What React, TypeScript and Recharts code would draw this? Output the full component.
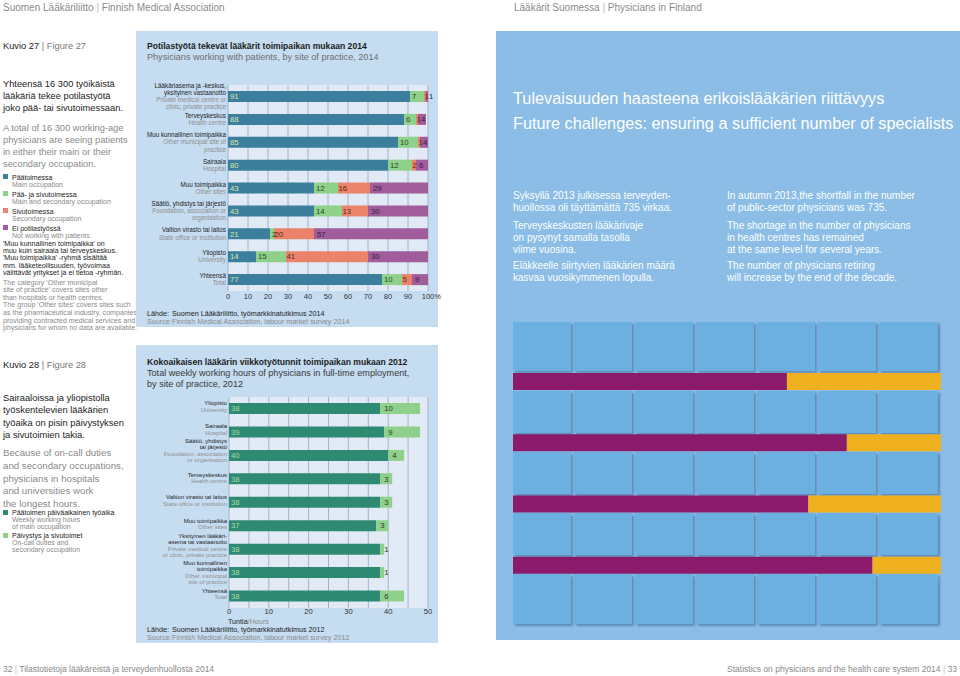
import React from "react";
import { BarChart, Bar, XAxis, YAxis, CartesianGrid, LabelList } from "recharts";

const FONT = '"Liberation Sans", Arial, Helvetica, sans-serif';
const DARK = "#1c1c1c";
const GRAY = "#8a8a8a";

// ---------- Figure 27 data ----------
const fig27Fi: string[][] = [
  ["Lääkäriasema ja -keskus,", "yksityinen vastaanotto"],
  ["Terveyskeskus"],
  ["Muu kunnallinen toimipaikka"],
  ["Sairaala"],
  ["Muu toimipaikka"],
  ["Säätiö, yhdistys tai järjestö"],
  ["Valtion virasto tai laitos"],
  ["Yliopisto"],
  ["Yhteensä"],
];
const fig27En: string[][] = [
  ["Private medical centre or", "clinic, private practice"],
  ["Health centre"],
  ["Other municipal site of", "practice"],
  ["Hospital"],
  ["Other sites"],
  ["Foundation, association or", "organisation"],
  ["State office or institution"],
  ["University"],
  ["Total"],
];
const fig27Main = [91, 88, 85, 80, 43, 43, 21, 14, 77];
const fig27Both = [7, 6, 10, 12, 12, 14, 2, 15, 10];
const fig27Secondary = [1, 1, 1, 2, 16, 13, 20, 41, 5];
const fig27NotWorking = [1, 4, 4, 6, 29, 30, 57, 30, 9];
const fig27Ticks = [0, 10, 20, 30, 40, 50, 60, 70, 80, 90, 100];

// ---------- Figure 28 data ----------
const fig28Fi: string[][] = [
  ["Yliopisto"],
  ["Sairaala"],
  ["Säätiö, yhdistys", "tai järjestö"],
  ["Terveyskeskus"],
  ["Valtion virasto tai laitos"],
  ["Muu toimipaikka"],
  ["Yksityinen lääkäri-", "asema tai vastaanotto"],
  ["Muu kunnallinen", "toimipaikka"],
  ["Yhteensä"],
];
const fig28En: string[][] = [
  ["University"],
  ["Hospital"],
  ["Foundation, association", "or organisation"],
  ["Health centre"],
  ["State office or institution"],
  ["Other sites"],
  ["Private medical centre", "or clinic, private practice"],
  ["Other municipal", "site of practice"],
  ["Total"],
];
const fig28Main = [38, 39, 40, 38, 38, 37, 38, 38, 38];
const fig28Extra = [10, 9, 4, 3, 3, 3, 1, 1, 6];
const fig28Ticks = [0, 5, 10, 15, 20, 25, 30, 35, 40, 45, 50];

// ---------- decorative bars on the right page ----------
const decorRows = ["r1", "r2", "r3", "r4"];
const decorPurple = [64, 78, 69, 84];
const decorYellow = [36, 22, 31, 16];

// ---------- texts ----------
const intro27Fi = ["Yhteensä 16 300 työikäistä", "lääkäriä tekee potilastyötä", "joko pää- tai sivutoimessaan."];
const intro27En = ["A total of 16 300 working-age", "physicians are seeing patients", "in either their main or their", "secondary occupation."];
const legend27 = [
  { fi: "Päätoimessa", en: "Main occupation", color: "#3b7f9d" },
  { fi: "Pää- ja sivutoimessa", en: "Main and secondary occupation", color: "#8fd08a" },
  { fi: "Sivutoimessa", en: "Secondary occupation", color: "#ea836a" },
  { fi: "Ei potilastyössä", en: "Not working with patients", color: "#a15c9c" },
];
const note27Fi = [
  "'Muu kunnallinen toimipaikka' on",
  "muu kuin sairaala tai terveyskeskus.",
  "'Muu toimipaikka' -ryhmä sisältää",
  "mm. lääketeollisuuden, työvoimaa",
  "välittävät yritykset ja ei tietoa -ryhmän.",
];
const note27En = [
  "The category 'Other municipal",
  "site of practice' covers sites other",
  "than hospitals or health centres.",
  "The group 'Other sites' covers sites such",
  "as the pharmaceutical industry, companies",
  "providing contracted medical services and",
  "physicians for whom no data are available.",
];
const intro28Fi = ["Sairaaloissa ja yliopistolla", "työskentelevien lääkärien", "työaika on pisin päivystyksen", "ja sivutoimien takia."];
const intro28En = ["Because of on-call duties", "and secondary occupations,", "physicians in hospitals", "and universities work", "the longest hours."];
const rightFi = [
  ["Syksyllä 2013 julkisessa terveyden-", "huollossa oli täyttämättä 735 virkaa."],
  ["Terveyskeskusten lääkärivaje", "on pysynyt samalla tasolla", "viime vuosina."],
  ["Eläkkeelle siirtyvien lääkärien määrä", "kasvaa vuosikymmenen lopulla."],
];
const rightEn = [
  ["In autumn 2013,the shortfall in the number", "of public-sector physicians was 735."],
  ["The shortage in the number of physicians", "in health centres has remained", "at the same level for  several years."],
  ["The number of physicians retiring", "will increase by the end of the decade."],
];

// layout only: vertical nudge of each category label block (px)
const shift27 = [0, 0, 0, 0, 0, 0, 0, 0, 0];
const shift28 = [-2, -2.5, -5, -1, -2, -2, -4, -0.5, -2];

const data27 = fig27Fi.map((fi, i) => ({
  name: fi.join(" "),
  main: fig27Main[i],
  both: fig27Both[i],
  secondary: fig27Secondary[i],
  notWorking: fig27NotWorking[i],
}));
const keys27 = data27.map((d) => d.name);

const data28 = fig28Fi.map((fi, i) => ({ name: fi.join(" "), main: fig28Main[i], extra: fig28Extra[i] }));
const keys28 = data28.map((d) => d.name);

const decorData = decorRows.map((r, i) => ({ name: r, purple: decorPurple[i], yellow: decorYellow[i] }));

function Line({ x, y, size, color, weight = 400, children, right = false }: any) {
  const lh = Math.round(size * 1.25);
  const style: React.CSSProperties = {
    position: "absolute",
    top: y - lh / 2,
    height: lh,
    lineHeight: `${lh}px`,
    fontSize: size,
    color,
    fontWeight: weight,
    whiteSpace: "nowrap",
    fontFamily: FONT,
  };
  if (right) style.right = 960 - x;
  else style.left = x;
  return <div style={style}>{children}</div>;
}

function Block({ x, y0, lh, size, color, lines, weight = 400 }: any) {
  return (
    <>
      {lines.map((t: string, k: number) => (
        <Line key={k} x={x} y={y0 + k * lh} size={size} color={color} weight={weight}>
          {t}
        </Line>
      ))}
    </>
  );
}

function makeCatTick(keys: string[], fi: string[][], en: string[][], lh: number, fs: number, shifts: number[]) {
  return (props: any) => {
    const { x, y, payload } = props;
    const i = keys.indexOf(payload.value);
    if (i < 0) return <g />;
    const lines = [
      ...fi[i].map((t) => ({ t, c: "#1e1e1e" })),
      ...en[i].map((t) => ({ t, c: "#8f8f8f" })),
    ];
    const top = y - (lines.length * lh) / 2 + shifts[i];
    return (
      <text x={x} textAnchor="end" fontSize={fs} fontFamily={FONT}>
        {lines.map((l, k) => (
          <tspan key={k} x={x} y={top + (k + 0.8) * lh} fill={l.c}>
            {l.t}
          </tspan>
        ))}
      </text>
    );
  };
}

const catTick27 = makeCatTick(keys27, fig27Fi, fig27En, 7.2, 6.3, shift27);
const catTick28 = makeCatTick(keys28, fig28Fi, fig28En, 6.5, 6.0, shift28);

function XTick27(props: any) {
  const { x, y, payload } = props;
  return (
    <g>
      <text x={x} y={y} dy="0.71em" textAnchor="middle" fontSize={7.6} fill="#333" fontFamily={FONT}>
        {payload.value}
      </text>
      {payload.value === 100 ? (
        <text x={x + 6.5} y={y} dy="0.71em" textAnchor="start" fontSize={7.2} fill="#333" fontFamily={FONT}>
          %
        </text>
      ) : null}
    </g>
  );
}

function XTick28(props: any) {
  const { x, y, payload } = props;
  if (payload.value % 10 !== 0) return <g />;
  return (
    <text x={x} y={y} dy="0.71em" textAnchor="middle" fontSize={7.6} fill="#333" fontFamily={FONT}>
      {payload.value}
    </text>
  );
}

const labelStyle = { fontSize: 7.8, fontFamily: FONT } as any;

function Figure27Chart() {
  return (
    <BarChart
      layout="vertical"
      width={316}
      height={240}
      data={data27}
      margin={{ top: 10, right: 24, bottom: 4, left: 0 }}
      barCategoryGap={0}
    >
      <CartesianGrid horizontal={false} stroke="#9fb4cc" fill="#e1eaf5" />
      <XAxis
        type="number"
        domain={[0, 100]}
        ticks={fig27Ticks}
        interval={0}
        allowDataOverflow
        axisLine={false}
        tickLine={false}
        tickSize={0}
        tickMargin={3}
        height={20}
        tick={XTick27}
      />
      <YAxis
        type="category"
        dataKey="name"
        width={92}
        interval={0}
        axisLine={false}
        tickLine={false}
        tickSize={0}
        tickMargin={2}
        tick={catTick27}
      />
      <Bar dataKey="main" stackId="s" fill="#3b7f9d" barSize={11} isAnimationActive={false}>
        <LabelList dataKey="main" position="insideLeft" offset={2} fill="#d3e8a9" {...labelStyle} />
      </Bar>
      <Bar dataKey="both" stackId="s" fill="#8fd08a" barSize={11} isAnimationActive={false}>
        <LabelList dataKey="both" position="insideLeft" offset={2} fill="#2b4a2b" {...labelStyle} />
      </Bar>
      <Bar dataKey="secondary" stackId="s" fill="#ea836a" barSize={11} isAnimationActive={false}>
        <LabelList dataKey="secondary" position="insideLeft" offset={0.5} fill="#5a2a20" {...labelStyle} />
      </Bar>
      <Bar dataKey="notWorking" stackId="s" fill="#a15c9c" barSize={11} isAnimationActive={false}>
        <LabelList dataKey="notWorking" position="insideLeft" offset={3} fill="#3a1f3a" {...labelStyle} />
      </Bar>
    </BarChart>
  );
}

function Figure28Chart() {
  return (
    <BarChart
      layout="vertical"
      width={302}
      height={240}
      data={data28}
      margin={{ top: 10, right: 10, bottom: 5, left: 0 }}
      barCategoryGap={0}
    >
      <CartesianGrid horizontal={false} stroke="#9fb4cc" fill="#e1eaf5" />
      <XAxis
        type="number"
        domain={[0, 50]}
        ticks={fig28Ticks}
        interval={0}
        axisLine={false}
        tickLine={false}
        tickSize={0}
        tickMargin={1}
        height={14}
        tick={XTick28}
      />
      <YAxis
        type="category"
        dataKey="name"
        width={93}
        interval={0}
        axisLine={false}
        tickLine={false}
        tickSize={0}
        tickMargin={2}
        tick={catTick28}
      />
      <Bar dataKey="main" stackId="s" fill="#2e8a72" barSize={11} isAnimationActive={false}>
        <LabelList dataKey="main" position="insideLeft" offset={2} fill="#a6dca0" {...labelStyle} />
      </Bar>
      <Bar dataKey="extra" stackId="s" fill="#8fd08a" barSize={11} isAnimationActive={false}>
        <LabelList dataKey="extra" position="insideLeft" offset={4} fill="#2b3b2b" {...labelStyle} />
      </Bar>
    </BarChart>
  );
}

function DecorChart() {
  return (
    <BarChart layout="vertical" width={428} height={245} data={decorData} margin={{ top: 0, right: 0, bottom: 0, left: 0 }} barCategoryGap={0}>
      <XAxis type="number" domain={[0, 100]} hide />
      <YAxis type="category" dataKey="name" hide />
      <Bar dataKey="purple" stackId="d" fill="#8b1a6b" barSize={17} isAnimationActive={false} />
      <Bar dataKey="yellow" stackId="d" fill="#efb020" barSize={17} isAnimationActive={false} />
    </BarChart>
  );
}

const colEdges = [513, 574, 635, 696, 757, 818, 879, 941];
const rowSpans = [
  [322, 373],
  [391, 435],
  [452, 496],
  [513, 557],
  [574, 626],
];

export default function App() {
  return (
    <div style={{ position: "relative", width: 960, height: 676, background: "#fff", overflow: "hidden", fontFamily: FONT }}>
      <style>{`body{margin:0;}`}</style>

      {/* headers */}
      <Line x={3} y={7} size={10} color={GRAY}>
        Suomen Lääkäriliitto <span style={{ color: "#bbb" }}>|</span> Finnish Medical Association
      </Line>
      <Line x={514} y={7} size={10} color={GRAY}>
        Lääkärit Suomessa <span style={{ color: "#bbb" }}>|</span> Physicians in Finland
      </Line>

      {/* left text column, figure 27 */}
      <Line x={3} y={46} size={9.3} color={DARK}>
        Kuvio 27 <span style={{ color: "#777" }}>| Figure 27</span>
      </Line>
      <Block x={3} y0={84} lh={12} size={9.3} color={DARK} lines={intro27Fi} />
      <Block x={3} y0={128} lh={12} size={9.3} color={GRAY} lines={intro27En} />
      {legend27.map((l, k) => (
        <React.Fragment key={k}>
          <div style={{ position: "absolute", left: 3, top: 174 + k * 17, width: 5, height: 5, background: l.color }} />
          <Line x={12} y={177 + k * 17} size={7} color={DARK}>
            {l.fi}
          </Line>
          <Line x={12} y={184 + k * 17} size={7} color={GRAY}>
            {l.en}
          </Line>
        </React.Fragment>
      ))}
      <Block x={3} y0={244} lh={7.4} size={7.1} color={DARK} lines={note27Fi} />
      <Block x={3} y0={283} lh={7.6} size={7.1} color={GRAY} lines={note27En} />

      {/* figure 27 panel */}
      <div style={{ position: "absolute", left: 136, top: 31, width: 302, height: 296, background: "#c5dcf1" }} />
      <Line x={147} y={46} size={8.6} color={DARK} weight={700}>
        Potilastyötä tekevät lääkärit toimipaikan mukaan 2014
      </Line>
      <Line x={147} y={57} size={9.1} color="#6f6f6f">
        Physicians working with patients, by site of practice, 2014
      </Line>
      <div style={{ position: "absolute", left: 136, top: 75 }}>
        <Figure27Chart />
      </div>
      <Line x={147} y={313} size={7.2} color={DARK}>
        Lähde:
      </Line>
      <Line x={172} y={313} size={7.2} color={DARK}>
        Suomen Lääkäriliitto, työmarkkinatutkimus 2014
      </Line>
      <Line x={147} y={321} size={7.2} color={GRAY}>
        Source:
      </Line>
      <Line x={172} y={321} size={7.2} color={GRAY}>
        Finnish Medical Association, labour market survey 2014
      </Line>

      {/* left text column, figure 28 */}
      <Line x={3} y={365} size={9.3} color={DARK}>
        Kuvio 28 <span style={{ color: "#777" }}>| Figure 28</span>
      </Line>
      <Block x={3} y0={398} lh={12.3} size={9.4} color={DARK} lines={intro28Fi} />
      <Block x={3} y0={453} lh={12.8} size={9.7} color={GRAY} lines={intro28En} />
      <div style={{ position: "absolute", left: 3, top: 509.5, width: 5, height: 5, background: "#2e8a72" }} />
      <Line x={12} y={512} size={7} color={DARK}>
        Päätoimen päiväaikainen työaika
      </Line>
      <Block x={12} y0={519} lh={7.2} size={7} color={GRAY} lines={["Weekly working hours", "of main occupation"]} />
      <div style={{ position: "absolute", left: 3, top: 532.5, width: 5, height: 5, background: "#8fd08a" }} />
      <Line x={12} y={535} size={7} color={DARK}>
        Päivystys ja sivutoimet
      </Line>
      <Block x={12} y0={542} lh={7.2} size={7} color={GRAY} lines={["On-call duties and", "secondary occupation"]} />

      {/* figure 28 panel */}
      <div style={{ position: "absolute", left: 136, top: 345, width: 302, height: 298, background: "#c5dcf1" }} />
      <Line x={147} y={362} size={8.6} color={DARK} weight={700}>
        Kokoaikaisen lääkärin viikkotyötunnit toimipaikan mukaan 2012
      </Line>
      <Line x={147} y={373} size={9.1} color="#3a3a3a">
        Total weekly working hours of physicians in full-time employment,
      </Line>
      <Line x={147} y={384} size={9.1} color="#3a3a3a">
        by site of practice, 2012
      </Line>
      <div style={{ position: "absolute", left: 136, top: 387 }}>
        <Figure28Chart />
      </div>
      <Line x={228} y={621.5} size={7.2} color={DARK}>
        Tuntia<span style={{ color: GRAY }}>/Hours</span>
      </Line>
      <Line x={147} y={629.5} size={7.2} color={DARK}>
        Lähde:
      </Line>
      <Line x={172} y={629.5} size={7.2} color={DARK}>
        Suomen Lääkäriliitto, työmarkkinatutkimus 2012
      </Line>
      <Line x={147} y={637} size={7.2} color={GRAY}>
        Source:
      </Line>
      <Line x={172} y={637} size={7.2} color={GRAY}>
        Finnish Medical Association, labour market survey 2012
      </Line>

      {/* right page panel */}
      <div style={{ position: "absolute", left: 496, top: 31, width: 464, height: 609, background: "#8bbde6" }} />
      <Line x={513} y={98} size={16.3} color="#fff">
        Tulevaisuuden haasteena erikoislääkärien riittävyys
      </Line>
      <Line x={513} y={123} size={16.3} color="#fff">
        Future challenges: ensuring a sufficient number of specialists
      </Line>
      {rightFi.map((grp, g) => (
        <Block key={"fi" + g} x={513} y0={[195, 225, 265][g]} lh={12} size={10} color="#fff" lines={grp} />
      ))}
      {rightEn.map((grp, g) => (
        <Block key={"en" + g} x={727} y0={[195, 225, 265][g]} lh={12} size={10} color="#fff" lines={grp} />
      ))}
      {rowSpans.map((r, ri) =>
        colEdges.slice(0, -1).map((c, ci) => (
          <div
            key={ri + "-" + ci}
            style={{
              position: "absolute",
              left: c,
              top: r[0],
              width: colEdges[ci + 1] - c - 3,
              height: r[1] - r[0] - 2,
              background: "#6cb0e1",
              boxShadow: "2px 2px 2px rgba(40,80,130,0.45)",
            }}
          />
        ))
      )}
      <div style={{ position: "absolute", left: 513, top: 351 }}>
        <DecorChart />
      </div>

      {/* footer */}
      <Line x={3} y={669} size={8.5} color={GRAY}>
        32 <span style={{ color: "#bbb" }}>|</span> Tilastotietoja lääkäreistä ja terveydenhuollosta 2014
      </Line>
      <Line x={957} y={669} size={8.5} color={GRAY} right>
        Statistics on physicians and the health care system 2014 <span style={{ color: "#bbb" }}>|</span> 33
      </Line>
    </div>
  );
}
